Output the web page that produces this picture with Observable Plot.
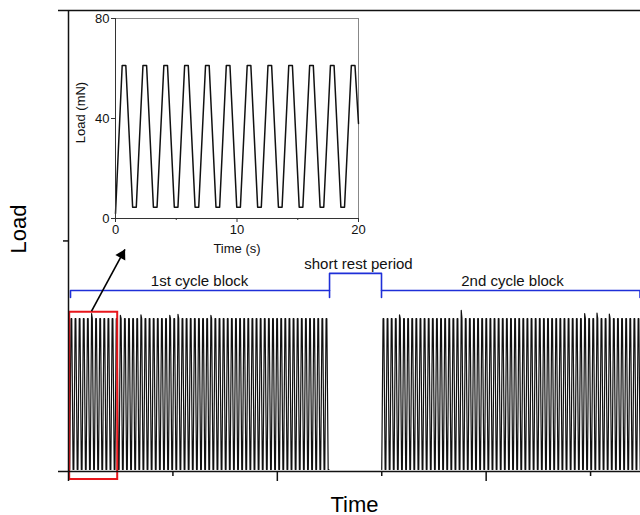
<!DOCTYPE html>
<html><head><meta charset="utf-8">
<script src="https://cdn.jsdelivr.net/npm/d3@7"></script>
<script src="https://cdn.jsdelivr.net/npm/@observablehq/plot@0.6"></script>
<style>
body{margin:0;background:#fff;}
#wrap{position:relative;width:640px;height:515px;overflow:hidden;background:#fff;}
#wrap svg{position:absolute;}
</style></head><body><div id="wrap"></div>
<script>
// ---------- Inset: first 20 s of the loading (time s, load mN) ----------
const insetTime = [0,
  0.55,0.85,1.41,1.71, 2.26,2.56,3.12,3.42, 3.98,4.28,4.84,5.14,
  5.69,5.99,6.55,6.85, 7.41,7.71,8.27,8.57, 9.12,9.42,9.98,10.28,
  10.84,11.14,11.70,12.00, 12.55,12.85,13.41,13.71, 14.26,14.56,15.12,15.42,
  15.98,16.28,16.84,17.14, 17.69,17.99,18.55,18.85, 19.41,19.71,20.00];
const insetLoad = [2,
  61.2,61.2,4.5,4.5, 61.2,61.2,4.5,4.5, 61.2,61.2,4.5,4.5,
  61.2,61.2,4.5,4.5, 61.2,61.2,4.5,4.5, 61.2,61.2,4.5,4.5,
  61.2,61.2,4.5,4.5, 61.2,61.2,4.5,4.5, 61.2,61.2,4.5,4.5,
  61.2,61.2,4.5,4.5, 61.2,61.2,4.5,4.5, 61.2,61.2,38];
const insetXDomain = [0, 20];
const insetYDomain = [0, 80];
const insetXTicks = [0, 10, 20];
const insetXMinor = [5, 15];
const insetYTicks = [0, 40, 80];

// ---------- Main trace: one recorded load cycle, repeated in each cycle block ----------
const cycleTime = [0, 0.55, 0.85, 1.41, 1.714];   // s within one cycle
const cycleLoad = [4.5, 61.2, 61.2, 4.5, 4.5];    // mN
const blockStart = [0, 130];                        // s
const blockCycles = [63, 63];
const cyclePeriod = 1.714;                          // s
// occasional overshooting peaks: block, cycle number, peak load (mN)
const spikeBlock = [0, 0, 0, 0, 0, 0, 1, 1, 1, 1, 1];
const spikeCycle = [5, 12, 17, 24, 26, 34, 4, 19, 49, 52, 55];
const spikeLoad  = [63.1, 62.4, 62.6, 62.4, 62.8, 62.4, 62.6, 64.3, 63.1, 63.3, 62.9];

const xDomain = [-0.5, 237.8];
const yDomain = [3.75, 177];
const xMajor = [-0.5, 86.5, 173.5];
const xMinor = [43, 130, 217];
const yMajor = [3.75, 177];
const yMinor = [90.4];

// ---------- Annotations ----------
const zoomT = [0, 20];
const zoomLoad = [0.74, 63.6];
const bracketGroup = [0,0,0,0, 1,1,1,1, 2,2,2];
const bracketT    = [0.33,0.33,108.25,108.25, 108.25,108.25,129.9,129.9, 129.9,237.6,237.6];
const bracketLoad = [69.15,71.8,71.8,69.15, 71.8,78.2,78.2,69.15, 71.8,71.8,69.15];
const arrowFrom = [9.1, 64.0];
const arrowTo = [23.0, 87.2];
const labelText = ["1st cycle block", "short rest period", "2nd cycle block"];
const labelT = [54.1, 120.3, 184.5];
const labelLoad = [73.3, 80.0, 73.3];
const xTitle = "Time", yTitle = "Load";
const insetXTitle = "Time (s)", insetYTitle = "Load (mN)";

const FONT = "'Liberation Sans', Arial, sans-serif";

// build tables
const trace = [];
blockStart.forEach((t0, b) => {
  for (let c = 0; c < blockCycles[b]; c++) {
    const si = spikeBlock.findIndex((bb, i) => bb === b && spikeCycle[i] === c);
    cycleTime.forEach((dt, i) => {
      const v = (si >= 0 && i === 1) ? spikeLoad[si] : cycleLoad[i];
      trace.push({block: b, t: t0 + c * cyclePeriod + dt, load: v});
    });
  }
});
const bracket = bracketT.map((t, i) => ({g: bracketGroup[i], t, load: bracketLoad[i]}));
const labels = labelText.map((s, i) => ({s, t: labelT[i], load: labelLoad[i]}));
const inset = insetTime.map((t, i) => ({t, load: insetLoad[i]}));
const arrowRow = [{a: arrowFrom[0], b: arrowFrom[1], c: arrowTo[0], d: arrowTo[1]}];

const axisStroke = "#111";
const main = Plot.plot({
  width: 640, height: 515,
  marginLeft: 68, marginRight: 0, marginTop: 10, marginBottom: 44,
  x: {domain: xDomain},
  y: {domain: yDomain},
  style: {fontFamily: FONT, background: "transparent", color: "#000"},
  marks: [
    Plot.line(trace, {x: "t", y: "load", z: "block", stroke: "#111", strokeWidth: 1.2, clip: true}),
    Plot.rect([{a: zoomT[0], b: zoomT[1], c: zoomLoad[0], d: zoomLoad[1]}],
      {x1: "a", x2: "b", y1: "c", y2: "d", fill: "none", stroke: "#e8161b", strokeWidth: 2}),
    Plot.line(bracket, {x: "t", y: "load", z: "g", stroke: "#1e2fd8", strokeWidth: 1.6}),
    Plot.link(arrowRow, {x1: "a", y1: "b", x2: "c", y2: "d", stroke: "#000", strokeWidth: 1.6}),
    Plot.dot(arrowRow, {x: "c", y: "d", symbol: "triangle", r: 4.2, fill: "#000", stroke: "none", rotate: 29, dx: -3, dy: 5.5}),
    Plot.text(labels, {x: "t", y: "load", text: "s", fontSize: 15, lineAnchor: "bottom", fill: "#111"}),
    Plot.ruleY([yDomain[1]], {stroke: axisStroke, strokeWidth: 1.5}),
    Plot.ruleY([yDomain[0]], {stroke: axisStroke, strokeWidth: 1.5}),
    Plot.ruleX([xDomain[0]], {stroke: axisStroke, strokeWidth: 1.5}),
    Plot.axisX(xMajor, {tickSize: 10, tickFormat: () => "", label: null, stroke: axisStroke, strokeWidth: 1.5}),
    Plot.axisX(xMinor, {tickSize: 5, tickFormat: () => "", label: null, stroke: axisStroke, strokeWidth: 1.5}),
    Plot.axisY(yMajor, {tickSize: 10, tickFormat: () => "", label: null, stroke: axisStroke, strokeWidth: 1.5}),
    Plot.axisY(yMinor, {tickSize: 5, tickFormat: () => "", label: null, stroke: axisStroke, strokeWidth: 1.5}),
    Plot.text([xTitle], {frameAnchor: "bottom", text: d => d, fontSize: 22, lineAnchor: "bottom", dy: 40, fill: "#000"}),
    Plot.text([yTitle], {frameAnchor: "left", text: d => d, fontSize: 22, rotate: -90, textAnchor: "middle", lineAnchor: "bottom", dx: -43, dy: -12, fill: "#000"})
  ]
});

const insetPlot = Plot.plot({
  width: 310, height: 260,
  marginLeft: 55, marginRight: 12, marginTop: 18, marginBottom: 42,
  x: {domain: insetXDomain},
  y: {domain: insetYDomain},
  style: {fontFamily: FONT, background: "transparent", color: "#111", fontSize: "13px"},
  marks: [
    Plot.frame({stroke: "#888", strokeWidth: 1}),
    Plot.line(inset, {x: "t", y: "load", stroke: "#111", strokeWidth: 1.5}),
    Plot.ruleX([insetXDomain[0]], {stroke: "#333", strokeWidth: 1}),
    Plot.ruleY([insetYDomain[0]], {stroke: "#333", strokeWidth: 1}),
    Plot.axisX(insetXTicks, {tickSize: 4, tickPadding: 2, label: null, fontSize: 13, stroke: "#333"}),
    Plot.axisX(insetXMinor, {tickSize: 2, tickFormat: () => "", label: null, stroke: "#333"}),
    Plot.axisY(insetYTicks, {tickSize: 4, tickPadding: 2, label: null, fontSize: 13, stroke: "#333"}),
    Plot.text([insetXTitle], {frameAnchor: "bottom", text: d => d, fontSize: 13, lineAnchor: "bottom", dy: 34, fill: "#111"}),
    Plot.text([insetYTitle], {frameAnchor: "left", text: d => d, fontSize: 13, rotate: -90, textAnchor: "middle", lineAnchor: "bottom", dx: -31, dy: -6, fill: "#111"})
  ]
});

const wrap = document.getElementById("wrap");
main.style.left = "0px"; main.style.top = "0px";
insetPlot.style.left = "60px"; insetPlot.style.top = "0px";
wrap.appendChild(main);
wrap.appendChild(insetPlot);
</script></body></html>
